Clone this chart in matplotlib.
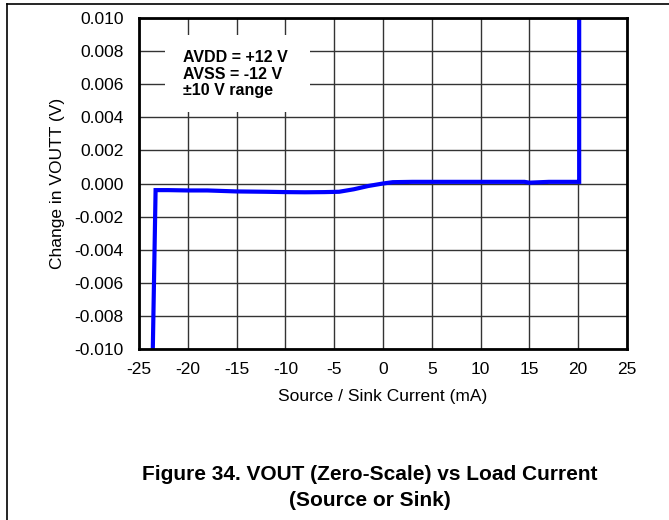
import matplotlib.pyplot as plt
from matplotlib.lines import Line2D
from matplotlib.patches import Rectangle

plt.rcParams['font.family'] = ['Liberation Sans', 'DejaVu Sans']

# Load current sweep (mA) and change in output voltage (V)
current = [-23.6, -23.3, -22, -20, -18, -15, -12, -10, -8, -6, -4.5,
           -3, -1.5, 0, 1, 3, 5, 10, 14.5, 15, 17, 19.9, 20.1, 20.1]
vout = [-0.0105, -0.0004, -0.0004, -0.00042, -0.00042, -0.00048, -0.0005,
        -0.00052, -0.00053, -0.00052, -0.0005, -0.00035, -0.00015, 0.0,
        0.00008, 0.0001, 0.0001, 0.0001, 0.0001, 0.00005, 0.0001, 0.0001,
        0.0001, 0.0105]

xticks = [-25, -20, -15, -10, -5, 0, 5, 10, 15, 20, 25]
yticks = [-0.010, -0.008, -0.006, -0.004, -0.002, 0.0, 0.002, 0.004, 0.006, 0.008, 0.010]

fig = plt.figure(figsize=(6.69, 5.2), dpi=100)
ax = fig.add_axes([139 / 669, 1 - 349 / 520, 488 / 669, 331 / 520])
ax.set_axisbelow(True)

ax.plot(current, vout, color='#0000ff', lw=3, solid_joinstyle='miter', zorder=3)

ax.set_xlim(-25, 25)
ax.set_ylim(-0.010, 0.010)
ax.set_xticks(xticks)
ax.set_yticks(yticks)
ax.set_xticklabels([str(t) for t in xticks])
ax.set_yticklabels(['%.3f' % t for t in yticks])
ax.tick_params(length=0, labelsize=12.5)
ax.tick_params(axis='y', pad=11)
ax.tick_params(axis='x', pad=9)
ax.grid(True, color='#333333', lw=1)
for s in ax.spines.values():
    s.set_linewidth(2)
    s.set_zorder(4)

ax.set_xlabel('Source / Sink Current (mA)', fontsize=12.5, labelpad=9)
ax.set_ylabel('Change in VOUTT (V)', fontsize=12.5, labelpad=7)

# condition box
ax.add_patch(Rectangle((-22.3, 0.00432), 14.8, 0.00465, fc='white', ec='none', zorder=2))
ax.text(-20.5, 0.0066, 'AVDD = +12 V\nAVSS = -12 V\n\u00b110 V range',
        fontsize=11.5, fontweight='bold', va='center', ha='left',
        linespacing=1.13, zorder=4)

fig.text(0.553, 1 - 475 / 520, 'Figure 34. VOUT (Zero-Scale) vs Load Current',
         ha='center', va='center', fontsize=15, fontweight='bold')
fig.text(0.553, 1 - 501 / 520, '(Source or Sink)',
         ha='center', va='center', fontsize=15, fontweight='bold')

# outer frame
fig.add_artist(Line2D([7 / 669, 7 / 669], [0, 1 - 4 / 520], color='black', lw=1.2))
fig.add_artist(Line2D([7 / 669, 1], [1 - 4 / 520, 1 - 4 / 520], color='black', lw=1.2))

fig.savefig('out.png', dpi=100)
